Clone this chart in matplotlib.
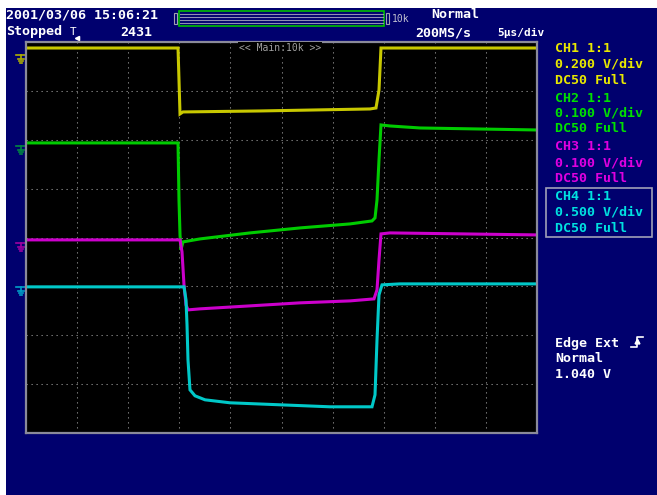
import matplotlib.pyplot as plt
from matplotlib.patches import Rectangle

# screen geometry in pixels (scope screen grabs are fixed size)
W, H = 657, 495
grid_l, grid_t, grid_r, grid_b = 26, 42, 537, 433

navy = "#00006e"
mono = "DejaVu Sans Mono"

# traces, x in divisions (0..10), y in divisions (-4..4)
ch1_x = [0, 2.975, 2.994, 3.014, 3.072, 4.579, 6.732, 6.849, 6.908, 6.947, 10]
ch1_y = [3.877, 3.877, 3.223, 2.528, 2.569, 2.589, 2.630, 2.650, 3.018, 3.877, 3.877]

ch2_x = [0, 2.975, 2.994, 3.014, 3.033, 3.072, 3.405, 4.384, 5.362, 6.341,
         6.771, 6.830, 6.869, 6.908, 6.947, 7.123, 7.710, 10]
ch2_y = [1.935, 1.935, 0.769, 0.053, -0.254, -0.090, -0.029, 0.094, 0.196, 0.278,
         0.339, 0.401, 0.769, 1.587, 2.303, 2.282, 2.241, 2.200]

ch3_x = [0, 3.014, 3.053, 3.092, 3.131, 3.170, 3.405, 4.384, 5.362, 6.341,
         6.810, 6.869, 6.908, 6.947, 7.123, 10]
ch3_y = [-0.049, -0.049, -0.294, -0.969, -1.378, -1.481, -1.460, -1.399, -1.337, -1.297,
         -1.256, -1.071, -0.458, 0.074, 0.094, 0.053]

ch4_x = [0, 3.092, 3.131, 3.151, 3.170, 3.209, 3.307, 3.503, 3.992, 4.971,
         5.949, 6.771, 6.830, 6.869, 6.908, 6.967, 7.319, 10]
ch4_y = [-1.010, -1.010, -1.276, -1.787, -2.503, -3.117, -3.239, -3.321, -3.382, -3.423,
         -3.464, -3.464, -3.219, -2.094, -1.174, -0.969, -0.949, -0.949]

traces = [(ch1_x, ch1_y, "#c8c800"), (ch2_x, ch2_y, "#00cc00"),
          (ch3_x, ch3_y, "#cc00cc"), (ch4_x, ch4_y, "#00c8c8")]

# ground marker levels (pixel rows) and colours
gnd_y = [55, 146, 243, 287]
gnd_col = ["#b0b000", "#008a40", "#a000a0", "#00a0c8"]

# right hand channel panel
panel = [("CH1 1:1", "#e8e800"), ("0.200 V/div", "#e8e800"), ("DC50 Full", "#e8e800"),
         ("CH2 1:1", "#00e000"), ("0.100 V/div", "#00e000"), ("DC50 Full", "#00e000"),
         ("CH3 1:1", "#e000e0"), ("0.100 V/div", "#e000e0"), ("DC50 Full", "#e000e0"),
         ("CH4 1:1", "#00e0e0"), ("0.500 V/div", "#00e0e0"), ("DC50 Full", "#00e0e0")]
panel_y = [49, 64, 81, 98, 113, 129, 147, 163, 179, 196, 212, 229]

trig_lines = ["Edge Ext", "Normal", "1.040 V"]
trig_y = [343, 359, 375]

fig = plt.figure(figsize=(W / 100, H / 100), dpi=100)
fig.patch.set_facecolor("white")

bg = fig.add_axes([0, 0, 1, 1])
bg.set_xlim(0, W)
bg.set_ylim(H, 0)
bg.axis("off")
bg.add_patch(Rectangle((6, 8), W - 6, H - 8, facecolor=navy, edgecolor="none"))

# header
txt = dict(color="white", family=mono, fontweight="bold", fontsize=9.6, va="center")
bg.text(6, 15, "2001/03/06 15:06:21", **txt)
bg.text(6, 32, "Stopped", **txt)
bg.text(70, 32, "T", color="white", family=mono, fontsize=8, va="center")
bg.plot([77], [38], marker="<", color="white", markersize=3)
bg.text(120, 32, "2431", **txt)
bg.text(431, 15, "Normal", **txt)
bg.text(415, 33, "200MS/s", **txt)
bg.text(497, 33, "5µs/div", color="white", family=mono, fontweight="bold",
        fontsize=8, va="center")

# record length bar
bg.add_patch(Rectangle((174, 13), 3, 11, facecolor="none", edgecolor="#a0a0b0", lw=0.8))
bg.add_patch(Rectangle((386, 13), 3, 11, facecolor="none", edgecolor="#a0a0b0", lw=0.8))
for yy in [14, 17, 20, 23]:
    bg.plot([180, 383], [yy, yy], color="#9090b0", lw=0.8)
bg.add_patch(Rectangle((179, 11), 205, 15, facecolor="none", edgecolor="#00c000", lw=1.2))
bg.text(392, 19, "10k", color="#c0c0d0", family=mono, fontsize=7, va="center")

# channel panel
for (s, c), yy in zip(panel, panel_y):
    bg.text(555, yy, s, color=c, family=mono, fontweight="bold", fontsize=9.6, va="center")
bg.add_patch(Rectangle((546, 188), 106, 49, facecolor="none", edgecolor="#a0a0b8", lw=1.2))

for s, yy in zip(trig_lines, trig_y):
    bg.text(555, yy, s, color="white", family=mono, fontweight="bold", fontsize=9.6, va="center")
bg.plot([631, 637, 637, 643], [347, 347, 337, 337], color="white", lw=1.2)
bg.plot([637], [341], marker="^", color="white", markersize=3.5)

# ground markers
for yy, c in zip(gnd_y, gnd_col):
    bg.plot([16, 26], [yy, yy], color=c, lw=1.2)
    bg.plot([21, 21], [yy, yy + 4], color=c, lw=1.2)
    bg.plot([18, 24], [yy + 4, yy + 4], color=c, lw=1.2)
    bg.plot([19, 23], [yy + 6, yy + 6], color=c, lw=1.2)
    bg.plot([20, 22], [yy + 8, yy + 8], color=c, lw=1.2)

# scope screen
ax = fig.add_axes([grid_l / W, (H - grid_b) / H, (grid_r - grid_l) / W, (grid_b - grid_t) / H])
ax.set_facecolor("black")
ax.set_xlim(0, 10)
ax.set_ylim(-4, 4)
ax.set_xticks([])
ax.set_yticks([])
for sp in ax.spines.values():
    sp.set_color("#8a8a9a")
    sp.set_linewidth(1.6)

for i in range(1, 10):
    ax.axvline(i, color="#8c8c8c", lw=0.75, ls=(0, (1.2, 3.6)))
for j in range(-3, 4):
    ax.axhline(j, color="#8c8c8c", lw=0.75, ls=(0, (1.2, 3.6)))

for x, y, c in traces:
    ax.plot(x, y, color=c, lw=2.2, solid_joinstyle="miter")

ax.text(4.97, 3.88, "<< Main:10k >>", color="#a0a0a0", family=mono, fontsize=7,
        ha="center", va="center",
        bbox=dict(facecolor="black", edgecolor="none", pad=0.5))

fig.savefig("out.png", dpi=100, facecolor=fig.get_facecolor())
